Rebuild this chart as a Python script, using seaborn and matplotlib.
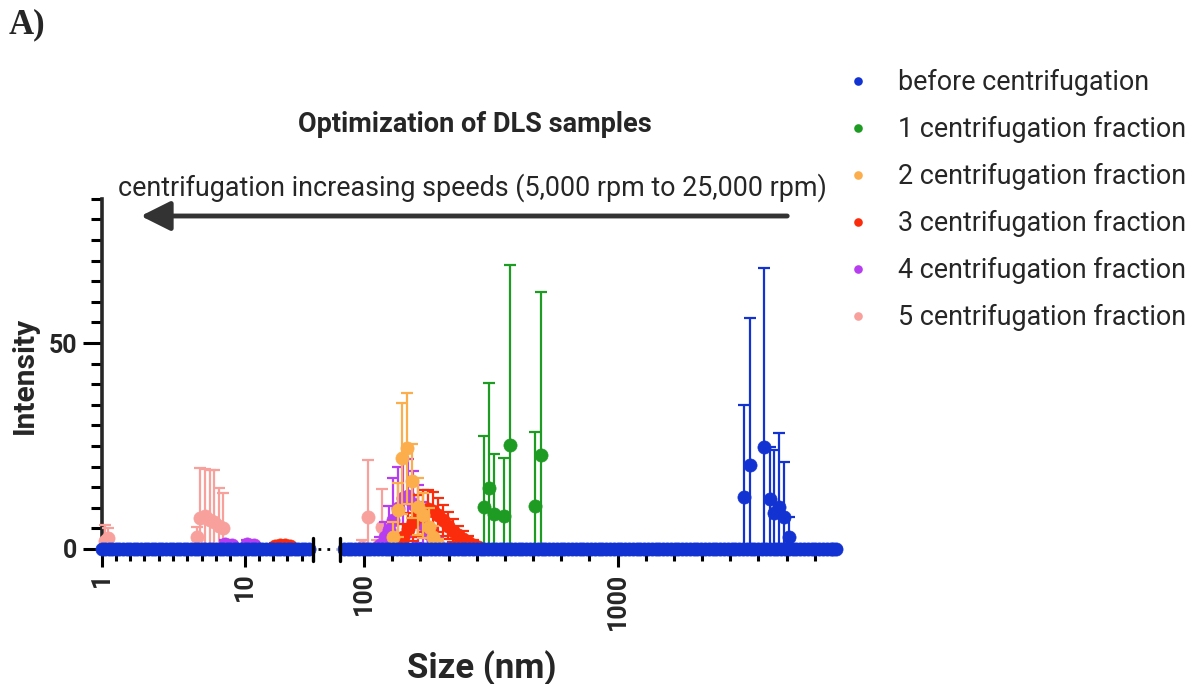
import numpy as np
import pandas as pd
import seaborn as sns
import matplotlib.pyplot as plt
from matplotlib.lines import Line2D
from matplotlib.patches import FancyArrowPatch
from matplotlib.ticker import FixedLocator, FixedFormatter, NullFormatter, MultipleLocator

# zero-intensity size bins (nm) of the unfiltered sample
baseline_sizes = [1.00, 1.06, 1.12, 1.19, 1.26, 1.33, 1.41, 1.50, 1.58, 1.68,
                  1.78, 1.88, 2.00, 2.11, 2.24, 2.37, 2.51, 2.66, 2.82, 2.99,
                  3.16, 3.35, 3.55, 3.76, 3.98, 4.22, 4.47, 4.73, 5.01, 5.31,
                  5.62, 5.96, 6.31, 6.68, 7.08, 7.50, 7.94, 8.41, 8.91, 9.44,
                  10.0, 10.6, 11.2, 11.9, 12.6, 13.3, 14.1, 15.0, 15.8, 16.8,
                  17.8, 18.8, 20.0, 21.1, 22.4, 23.7, 25.1, 26.6, 28.2,
                  83.2, 86.1, 89.1, 92.2, 95.5, 98.9, 102.3, 105.9, 109.6, 113.4,
                  117.5, 121.6, 125.9, 130.3, 134.9, 139.6, 144.5, 149.6, 154.9, 160.3,
                  166.0, 171.8, 177.8, 184.0, 190.5, 197.2, 204.2, 211.4, 218.8, 226.5,
                  234.4, 242.6, 251.2, 260.0, 269.2, 278.6, 288.4, 298.5, 309.0, 319.8,
                  331.1, 342.7, 354.8, 367.3, 380.2, 393.6, 407.4, 421.7, 436.5, 451.8,
                  467.7, 484.1, 501.2, 518.8, 537.0, 555.9, 575.4, 595.6, 616.6, 638.2,
                  660.7, 683.9, 707.9, 732.8, 758.6, 785.2, 812.8, 841.3, 871.0, 901.6,
                  933.3, 966.1, 1000, 1035, 1072, 1110, 1148, 1188, 1230, 1273,
                  1318, 1364, 1413, 1463, 1514, 1567, 1622, 1679, 1738, 1799,
                  1862, 1927, 1995, 2065, 2138, 2213, 2291, 2371, 2455, 2541,
                  2630, 2722, 2818, 2917, 3020, 3126, 3236, 3350, 3467, 3589,
                  3715, 3845, 3981, 4121, 4266, 4416, 4571, 4731, 4898, 5070,
                  5248, 5432, 5623, 5820, 6026, 6237, 6457, 6684, 6918, 7100, 7250]

labels = ['before centrifugation', '1 centrifugation fraction', '2 centrifugation fraction',
          '3 centrifugation fraction', '4 centrifugation fraction', '5 centrifugation fraction']
colors = ['#1233D2', '#1E9B22', '#FBAE4B', '#FB2C0C', '#B63DF0', '#F7A09C']

# peaks: size (nm), mean intensity, SD
before_size = [3155, 3315, 3785, 3990, 4150, 4345, 4545, 4755]
before_mean = [12.7, 20.4, 24.8, 12.1, 8.7, 10.3, 7.8, 2.8]
before_sd = [22.3, 35.6, 43.3, 12.7, 15.3, 17.9, 13.2, 5.0]

frac1_size = [298, 312, 327, 357, 378, 474, 497]
frac1_mean = [10.2, 14.8, 8.5, 8.0, 25.2, 10.4, 22.8]
frac1_sd = [17.2, 25.5, 14.5, 14.0, 43.8, 18.0, 39.6]

frac2_size = [130.6, 136.7, 140.9, 147.6, 154.8, 163.9, 171.6, 180.1, 187.7, 196.0]
frac2_mean = [3.0, 9.5, 22.0, 24.4, 16.5, 10.3, 8.2, 5.4, 3.0, 1.0]
frac2_sd = [3.5, 6.5, 13.4, 13.5, 9.0, 7.0, 5.5, 4.5, 2.5, 1.5]

frac3_size = [16.3, 17.7, 19.2, 20.8,
              136.2, 142.6, 149.2, 156.2, 163.4, 171.0, 179.0, 187.4, 196.1,
              205.3, 214.9, 224.9, 235.4, 246.4, 257.8, 269.9, 282.4]
frac3_mean = [0.8, 1.0, 1.0, 0.8,
              1.5, 3.0, 4.8, 6.5, 8.0, 9.2, 9.6, 9.2, 8.3,
              7.0, 5.7, 4.4, 3.3, 2.4, 1.6, 1.0, 0.5]
frac3_sd = [0.6, 0.6, 0.6, 0.6,
            2.0, 3.0, 4.0, 4.5, 5.0, 5.0, 4.8, 4.6, 4.2,
            3.8, 3.3, 2.8, 2.3, 1.9, 1.5, 1.1, 0.8]

frac4_size = [7.3, 8.2, 10.4, 11.6,
              115.7, 121.1, 125.5, 130.2, 136.2, 142.6, 149.2, 156.2, 163.4, 171.0, 179.0, 187.4, 196.1]
frac4_mean = [1.3, 1.0, 1.3, 1.0,
              1.0, 3.0, 4.5, 7.0, 10.0, 12.3, 12.8, 11.0, 8.5, 6.0, 4.0, 2.2, 1.0]
frac4_sd = [0.9, 0.8, 0.9, 0.8,
            2.0, 3.5, 6.0, 10.2, 10.0, 10.0, 9.0, 8.0, 7.0, 5.5, 4.0, 3.0, 2.0]

frac5_size = [1.05, 1.10, 4.65, 4.88, 5.28, 5.73, 6.11, 6.62, 7.06,
              98.2, 103.4, 112.0, 117.5]
frac5_mean = [2.0, 2.6, 3.0, 7.5, 8.0, 7.0, 6.5, 5.5, 5.0,
              0.5, 7.8, 0.6, 5.4]
frac5_sd = [3.8, 2.4, 2.3, 12.2, 11.5, 12.2, 12.7, 9.3, 8.6,
            1.7, 13.8, 1.6, 9.2]

series = [
    (before_size, before_mean, before_sd),
    (frac1_size, frac1_mean, frac1_sd),
    (frac2_size, frac2_mean, frac2_sd),
    (frac3_size, frac3_mean, frac3_sd),
    (frac4_size, frac4_mean, frac4_sd),
    (frac5_size, frac5_mean, frac5_sd),
]

rows = []
for lab, (sz, mn, sd) in zip(labels, series):
    for a, b, c in zip(sz, mn, sd):
        rows.append((lab, a, b, c))
for a in baseline_sizes:
    rows.append((labels[0], a, 0.0, 0.0))
df = pd.DataFrame(rows, columns=['sample', 'size', 'intensity', 'sd'])

sns.set_theme(style='ticks')
plt.rcParams['font.family'] = ['Roboto', 'DejaVu Sans']

W, H = 1193, 684
fig = plt.figure(figsize=(W / 100, H / 100), dpi=100)

def fx(px):
    return px / W

def fy(py):
    return 1 - py / H

bottom = fy(549)
height = (549 - 198.8) / H
ax1 = fig.add_axes([fx(101.6), bottom, fx(312.8) - fx(101.6), height])
ax2 = fig.add_axes([fx(340), bottom, fx(840.9) - fx(340), height], sharey=ax1)

for ax in (ax1, ax2):
    ax.set_xscale('log')
    ax.set_facecolor('white')
    for s in ['top', 'right']:
        ax.spines[s].set_visible(False)
    ax.spines['bottom'].set_linewidth(2.6)
    ax.spines['left'].set_linewidth(2.6)

ax1.set_xlim(1, 30)
ax2.set_xlim(80.4, 7600)
ax1.set_ylim(0, 85)

# draw order: last legend entry at the bottom, blue on top
for i in range(len(labels) - 1, -1, -1):
    lab = labels[i]
    col = colors[i]
    z = 10 + (len(labels) - i) * 2
    d = df[df['sample'] == lab]
    for ax, part in ((ax1, d[d['size'] < 50]), (ax2, d[d['size'] >= 50])):
        if part.empty:
            continue
        e = part[part['sd'] > 0]
        if not e.empty:
            lo = np.minimum(e['intensity'], e['sd'])
            ax.errorbar(e['size'], e['intensity'], yerr=[lo, e['sd']], fmt='none',
                        ecolor=col, elinewidth=1.6, capsize=4, capthick=1.6,
                        zorder=z, clip_on=False)
        sns.scatterplot(data=part, x='size', y='intensity', color=col, s=90,
                        marker='o', edgecolor=col, linewidth=0.5, ax=ax, zorder=z + 1,
                        clip_on=False, legend=False)

# ticks
tick_kw = dict(width=2.2, color='black', direction='out')
ax1.yaxis.set_major_locator(FixedLocator([0, 50]))
ax1.yaxis.set_minor_locator(MultipleLocator(5))
ax1.tick_params(axis='y', which='major', length=13.5, labelsize=18, pad=4, **tick_kw)
ax1.tick_params(axis='y', which='minor', length=8, **tick_kw)
for lbl in ax1.get_yticklabels():
    lbl.set_fontweight('bold')

ax1.xaxis.set_major_locator(FixedLocator([1, 10]))
ax1.xaxis.set_major_formatter(FixedFormatter(['1', '10']))
ax1.xaxis.set_minor_locator(FixedLocator([10 ** (k / 10) for k in range(1, 15) if k != 10]))
ax2.xaxis.set_major_locator(FixedLocator([100, 1000]))
ax2.xaxis.set_major_formatter(FixedFormatter(['100', '1000']))
ax2.xaxis.set_minor_locator(FixedLocator([10 ** (2 + k / 9) for k in range(1, 17) if k != 9]))
for ax in (ax1, ax2):
    ax.xaxis.set_minor_formatter(NullFormatter())
    ax.tick_params(axis='x', which='major', length=13, labelsize=18, pad=4,
                   labelrotation=90, **tick_kw)
    ax.tick_params(axis='x', which='minor', length=8.5, **tick_kw)
    for lbl in ax.get_xticklabels():
        lbl.set_fontweight('bold')
    ax.set_xlabel('')
    ax.set_ylabel('')

ax2.spines['left'].set_visible(False)
ax2.tick_params(axis='y', which='both', left=False, labelleft=False)

# axis break marks
for px in (313, 340):
    fig.add_artist(Line2D([fx(px), fx(px)], [fy(538), fy(561)], color='black',
                          lw=2.4, transform=fig.transFigure, zorder=30))
fig.add_artist(Line2D([fx(318), fx(336)], [fy(549), fy(549)], color='black', lw=2,
                      linestyle=(0, (1, 2.2)), transform=fig.transFigure))

# texts
fig.text(fx(25), fy(375), 'Intensity', rotation=90, ha='center', va='center',
         fontsize=21.5, fontweight='bold')
fig.text(fx(482), fy(668), 'Size (nm)', ha='center', va='center',
         fontsize=25, fontweight='bold')
fig.text(fx(475), fy(124), 'Optimization of DLS samples', ha='center', va='center',
         fontsize=19.5, fontweight='bold')
fig.text(fx(472), fy(188), 'centrifugation increasing speeds (5,000 rpm to 25,000 rpm)',
         ha='center', va='center', fontsize=19.4)
fig.text(fx(9), fy(25), 'A)', ha='left', va='center', fontsize=25, fontweight='bold',
         family=['Liberation Serif', 'DejaVu Serif'])

arrow = FancyArrowPatch((fx(790), fy(216)), (fx(138), fy(216)), transform=fig.transFigure,
                        arrowstyle='-|>,head_length=0.6,head_width=0.3',
                        mutation_scale=30, lw=3.5, color='#333333')
fig.add_artist(arrow)

# legend
handles = [Line2D([], [], marker='o', linestyle='', color=c, markersize=6.2,
                  markeredgewidth=0) for c in colors]
fig.legend(handles, labels, loc='upper left', bbox_to_anchor=(fx(845), fy(69)),
           frameon=False, fontsize=19.4, handlelength=1.0, handletextpad=0.95,
           labelspacing=0.74, borderpad=0, borderaxespad=0)

fig.savefig('out.png', dpi=100, facecolor='white')
